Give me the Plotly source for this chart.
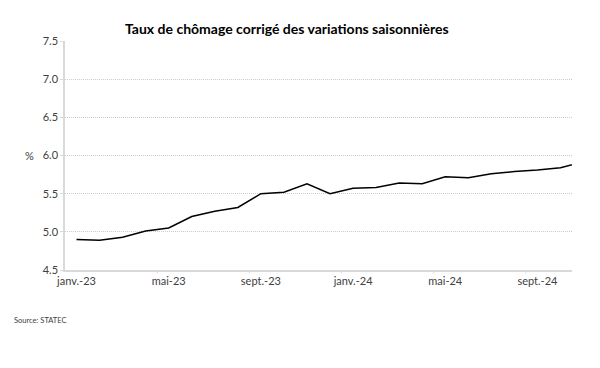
import plotly.graph_objects as go

months = ["janv.-23", "févr.-23", "mars-23", "avr.-23", "mai-23", "juin-23",
          "juil.-23", "août-23", "sept.-23", "oct.-23", "nov.-23", "déc.-23",
          "janv.-24", "févr.-24", "mars-24", "avr.-24", "mai-24", "juin-24",
          "juil.-24", "août-24", "sept.-24", "oct.-24", "nov.-24"]
rate = [4.90, 4.89, 4.93, 5.01, 5.05, 5.20, 5.27, 5.32, 5.50, 5.52, 5.63, 5.50,
        5.57, 5.58, 5.64, 5.63, 5.72, 5.71, 5.76, 5.79, 5.81, 5.84, 5.92]
y_ticks = [4.5, 5.0, 5.5, 6.0, 6.5, 7.0, 7.5]
y_ticktext = ["4.5", "5.0", "5.5", "6.0", "6.5", "7.0", "7.5"]
n_shown = 22

font_main = "Lato, 'Open Sans', sans-serif"

fig = go.Figure()
fig.add_trace(go.Scatter(x=list(range(len(months))), y=rate, mode="lines",
                         line=dict(color="black", width=1.5), hoverinfo="skip"))

fig.update_layout(
    width=600, height=368,
    margin=dict(l=65, r=28, t=41, b=98),
    paper_bgcolor="white", plot_bgcolor="white",
    showlegend=False,
    font=dict(family=font_main, size=11, color="#404040"),
    title=dict(text="Taux de chômage corrigé des variations saisonnières",
               x=0.478, xanchor="center", y=0.921, yanchor="middle",
               font=dict(family=font_main, size=14, color="black", weight="bold")),
)
fig.update_xaxes(
    range=[-0.5, n_shown - 0.5],
    tickmode="array",
    tickvals=list(range(0, n_shown, 4)),
    ticktext=[months[i] for i in range(0, n_shown, 4)],
    showgrid=False, zeroline=False,
    showline=True, linecolor="#d9d9d9", linewidth=1.5,
    ticks="", ticklen=0,
    tickfont=dict(size=11, color="#404040"),
)
# tick marks at category boundaries
for b in range(4, n_shown + 1, 4):
    fig.add_shape(type="line", xref="x", yref="paper", x0=b - 0.5, x1=b - 0.5,
                  y0=0, y1=-0.015, line=dict(color="#d9d9d9", width=1))
fig.update_yaxes(
    range=[4.5, 7.5],
    tickmode="array", tickvals=y_ticks, ticktext=y_ticktext,
    showgrid=True, gridcolor="#cccccc", griddash="1px,1px", gridwidth=1,
    zeroline=False,
    showline=True, linecolor="#d9d9d9", linewidth=1.5,
    ticks="outside", ticklen=3, tickcolor="#d9d9d9",
    tickfont=dict(size=11, color="#404040"),
)
fig.add_annotation(text="%", xref="paper", yref="y", x=-0.057, y=6.0,
                   xanchor="right", yanchor="middle", showarrow=False,
                   font=dict(size=11, color="#404040"))
fig.add_annotation(text="Source: STATEC", xref="paper", yref="paper",
                   x=-0.1, y=-0.22, xanchor="left", yanchor="middle",
                   xshift=-2, showarrow=False,
                   font=dict(size=7.5, color="#404040"))

fig.write_html("out.html", config={"displayModeBar": False},
               post_script="document.body.style.margin='0';document.body.style.padding='0';")
